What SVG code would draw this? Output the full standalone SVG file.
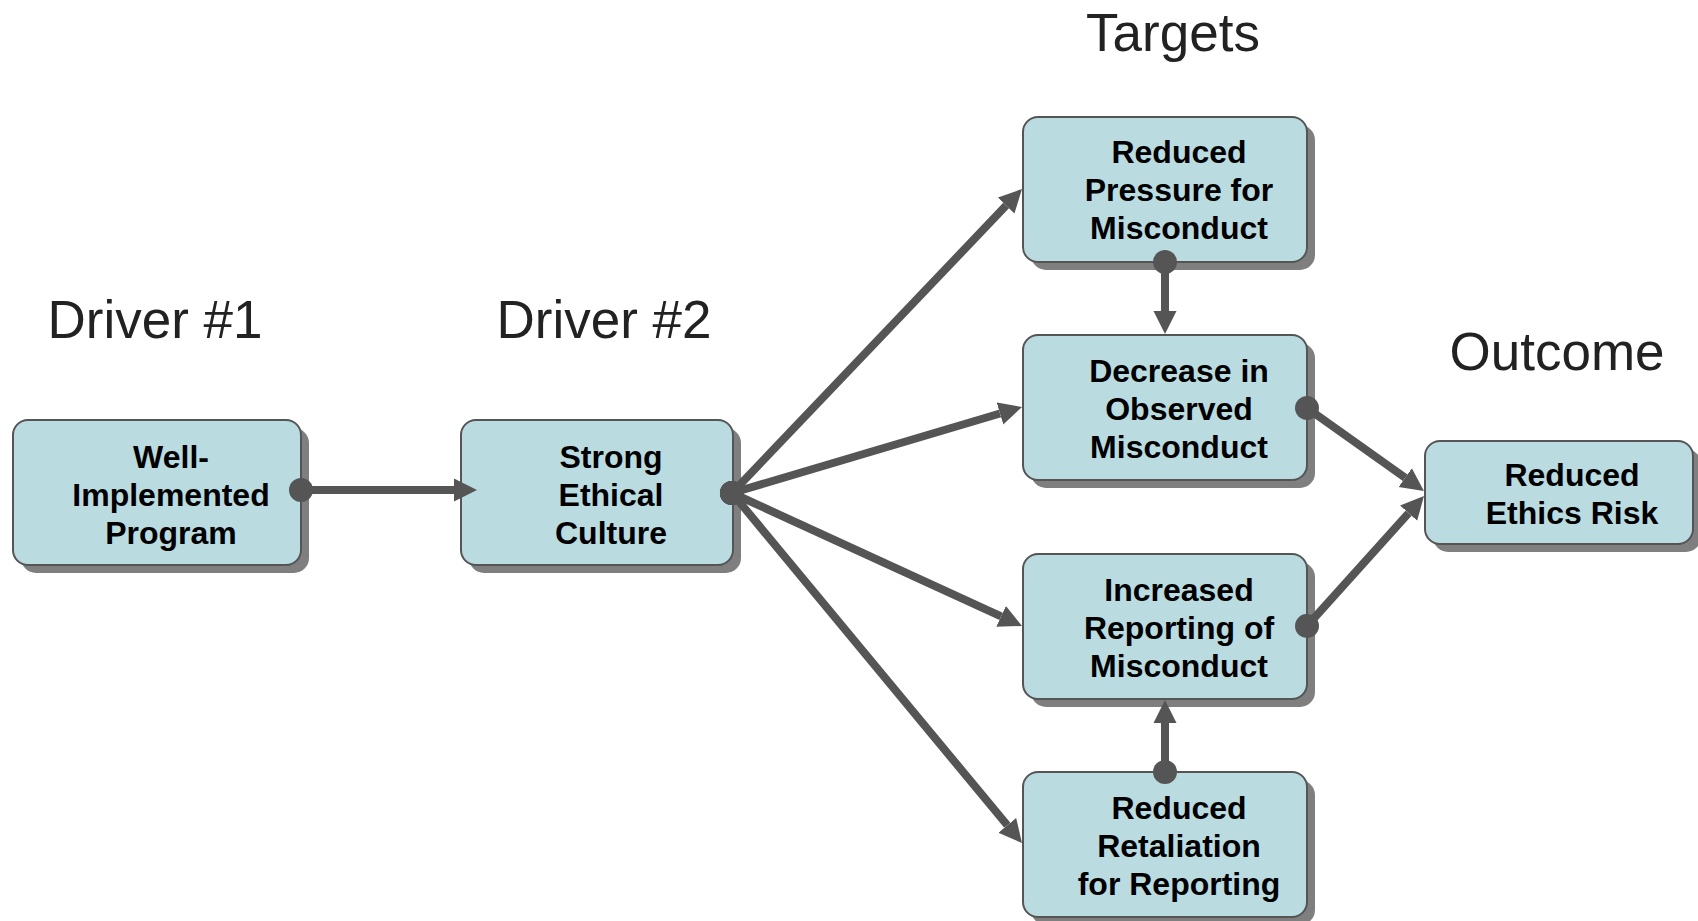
<svg xmlns="http://www.w3.org/2000/svg" width="1698" height="921" viewBox="0 0 1698 921">
<defs>
<style>
.shadow{fill:#7f7f7f}
.box{fill:#badbe0;stroke:#555;stroke-width:2}
.lbl{font-family:"Liberation Sans",Arial,sans-serif;font-weight:bold;font-size:32px;fill:#000;text-anchor:middle}
.ttl{font-family:"Liberation Sans",Arial,sans-serif;font-size:53px;fill:#222;text-anchor:middle}
.conn{stroke:#555;stroke-width:8;fill:none;marker-start:url(#dot);marker-end:url(#arr)}
</style>
<marker id="arr" markerUnits="userSpaceOnUse" markerWidth="24" markerHeight="24" refX="0" refY="11.5" orient="auto" viewBox="0 0 24 23">
<path d="M0,0 L23,11.5 L0,23 z" fill="#555"/>
</marker>
<marker id="dot" markerUnits="userSpaceOnUse" markerWidth="26" markerHeight="26" refX="13" refY="13" orient="auto" viewBox="0 0 26 26">
<circle cx="13" cy="13" r="12" fill="#555"/>
</marker>
</defs>
<rect width="1698" height="921" fill="#fff"/>

<g id="titles">
<text class="ttl" x="155" y="338">Driver #1</text>
<text class="ttl" x="604" y="338">Driver #2</text>
<text class="ttl" x="1173" y="51">Targets</text>
<text class="ttl" x="1557" y="370">Outcome</text>
</g>

<g id="node-program">
<rect class="shadow" x="21" y="428" width="288" height="145" rx="15"/>
<rect class="box" x="13" y="420" width="288" height="145" rx="15"/>
<text class="lbl" x="171"><tspan x="171" y="468">Well-</tspan><tspan x="171" y="506">Implemented</tspan><tspan x="171" y="544">Program</tspan></text>
</g>

<g id="node-culture">
<rect class="shadow" x="469" y="428" width="272" height="145" rx="15"/>
<rect class="box" x="461" y="420" width="272" height="145" rx="15"/>
<text class="lbl" x="611"><tspan x="611" y="468">Strong</tspan><tspan x="611" y="506">Ethical</tspan><tspan x="611" y="544">Culture</tspan></text>
</g>

<g id="node-pressure">
<rect class="shadow" x="1031" y="125" width="284" height="145" rx="15"/>
<rect class="box" x="1023" y="117" width="284" height="145" rx="15"/>
<text class="lbl" x="1179"><tspan x="1179" y="163">Reduced</tspan><tspan x="1179" y="201">Pressure for</tspan><tspan x="1179" y="239">Misconduct</tspan></text>
</g>

<g id="node-observed">
<rect class="shadow" x="1031" y="343" width="284" height="145" rx="15"/>
<rect class="box" x="1023" y="335" width="284" height="145" rx="15"/>
<text class="lbl" x="1179"><tspan x="1179" y="382">Decrease in</tspan><tspan x="1179" y="420">Observed</tspan><tspan x="1179" y="458">Misconduct</tspan></text>
</g>

<g id="node-reporting">
<rect class="shadow" x="1031" y="562" width="284" height="145" rx="15"/>
<rect class="box" x="1023" y="554" width="284" height="145" rx="15"/>
<text class="lbl" x="1179"><tspan x="1179" y="601">Increased</tspan><tspan x="1179" y="639">Reporting of</tspan><tspan x="1179" y="677">Misconduct</tspan></text>
</g>

<g id="node-retaliation">
<rect class="shadow" x="1031" y="780" width="284" height="145" rx="15"/>
<rect class="box" x="1023" y="772" width="284" height="145" rx="15"/>
<text class="lbl" x="1179"><tspan x="1179" y="819">Reduced</tspan><tspan x="1179" y="857">Retaliation</tspan><tspan x="1179" y="895">for Reporting</tspan></text>
</g>

<g id="node-outcome">
<rect class="shadow" x="1433" y="449" width="268" height="103" rx="15"/>
<rect class="box" x="1425" y="441" width="268" height="103" rx="15"/>
<text class="lbl" x="1572"><tspan x="1572" y="486">Reduced</tspan><tspan x="1572" y="524">Ethics Risk</tspan></text>
</g>

<g id="connectors">
<path class="conn" d="M301,490 L454,490"/>
<path class="conn" d="M732,493 L1006.1,205.6"/>
<path class="conn" d="M732,493 L1000,413.5"/>
<path class="conn" d="M732,493 L1001.1,616.4"/>
<path class="conn" d="M732,493 L1007.3,825.3"/>
<path class="conn" d="M1165,262 L1165,311"/>
<path class="conn" d="M1165,772 L1165,723"/>
<path class="conn" d="M1307,408 L1405.2,477.7"/>
<path class="conn" d="M1307,626 L1408.6,513.1"/>
</g>
</svg>
